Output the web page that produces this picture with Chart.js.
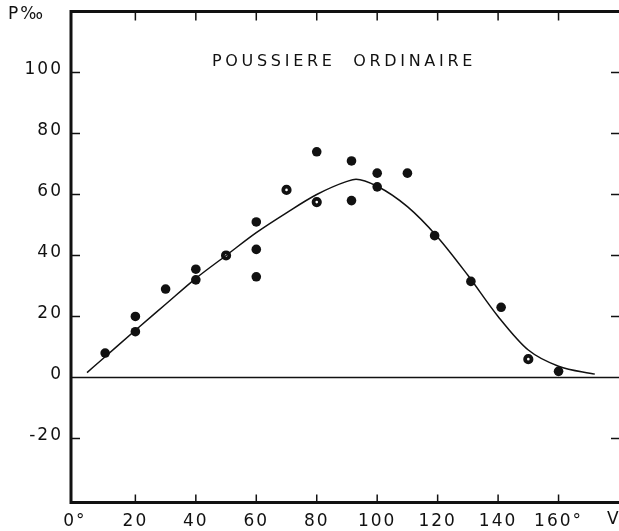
<!DOCTYPE html>
<html>
<head>
<meta charset="utf-8">
<script src="https://cdn.jsdelivr.net/npm/chart.js@4"></script>
<style>
  html, body { margin: 0; padding: 0; background: #fff; overflow: hidden; }
  #wrap { width: 619px; height: 531px; position: relative; }
  canvas { display: block; }
</style>
</head>
<body>
<div id="wrap"><canvas id="chart"></canvas></div>
<script>
// measured points (angle V in degrees, P in per mille)
const dotX = [10, 20, 20, 30, 40, 40, 60, 60, 60, 80, 91.5, 91.5, 100, 100, 110, 119, 131, 141, 160];
const dotY = [8, 15, 20, 29, 35.5, 32, 51, 42, 33, 74, 71, 58, 67, 62.5, 67, 46.5, 31.5, 23, 2];

// points drawn with a small white centre
const ringX = [50, 70, 80, 150];
const ringY = [40, 61.5, 57.5, 6];

// fitted curve
const curveX = [4, 10, 20, 30, 40, 50, 60, 70, 80, 90, 93, 100, 110, 120, 130, 140, 150, 160, 172];
const curveY = [1.6, 6.8, 15.5, 24, 32.5, 40, 47.5, 54, 60, 64.3, 65, 62.7, 56, 46, 33.5, 20, 9, 3.7, 1.1];

// axis ticks
const xTickValues = [0, 20, 40, 60, 80, 100, 120, 140, 160];
const xTickLabels = ["0°", "20", "40", "60", "80", "100", "120", "140", "160°"];
const yTickValues = [-20, 0, 20, 40, 60, 80, 100];
const yTickLabels = ["-20", "0", "20", "40", "60", "80", "100"];

const INK = "#111";
const FONT = "'DejaVu Sans', sans-serif";

const toPoints = (xs, ys) => xs.map((x, i) => ({ x, y: ys[i] }));

// frame, inward tick marks, zero line and the loose texts
const framePlugin = {
  id: "frame",
  beforeDraw(chart) {
    chart.ctx.letterSpacing = "2px";
  },
  afterDraw(chart) {
    const { ctx, chartArea: a, scales } = chart;
    const xs = scales.x, ys = scales.y;
    ctx.save();
    ctx.strokeStyle = INK;
    ctx.lineCap = "butt";

    // zero line
    ctx.lineWidth = 1.6;
    const y0 = ys.getPixelForValue(0);
    ctx.beginPath();
    ctx.moveTo(a.left, y0);
    ctx.lineTo(a.right, y0);
    ctx.stroke();

    // tick marks pointing inwards
    ctx.lineWidth = 1.5;
    xTickValues.forEach(v => {
      if (v === 0) return;
      const px = xs.getPixelForValue(v);
      ctx.beginPath();
      ctx.moveTo(px, a.bottom);
      ctx.lineTo(px, a.bottom - 8);
      ctx.moveTo(px, a.top);
      ctx.lineTo(px, a.top + 9);
      ctx.stroke();
    });
    yTickValues.forEach(v => {
      if (v === 0) return;
      const py = ys.getPixelForValue(v);
      ctx.beginPath();
      ctx.moveTo(a.left, py);
      ctx.lineTo(a.left + 9, py);
      ctx.moveTo(a.right - 8, py);
      ctx.lineTo(a.right, py);
      ctx.stroke();
    });

    // heavy frame: left, bottom, top
    ctx.lineWidth = 3;
    ctx.beginPath();
    ctx.moveTo(a.right, a.top);
    ctx.lineTo(a.left, a.top);
    ctx.lineTo(a.left, a.bottom);
    ctx.lineTo(a.right, a.bottom);
    ctx.stroke();

    // texts
    ctx.fillStyle = INK;
    ctx.textBaseline = "middle";
    ctx.letterSpacing = "2px";
    ctx.font = "17px " + FONT;
    ctx.textAlign = "left";
    ctx.fillText("P‰", 8, 15);
    ctx.fillText("V", 607, 520);

    ctx.letterSpacing = "3.7px";
    ctx.font = "16px " + FONT;
    ctx.textAlign = "center";
    ctx.fillText("POUSSIERE  ORDINAIRE", 344, 62);
    ctx.restore();
  },
};

new Chart(document.getElementById("chart"), {
  type: "scatter",
  data: {
    datasets: [
      {
        type: "line",
        label: "courbe",
        data: toPoints(curveX, curveY),
        borderColor: INK,
        borderWidth: 1.5,
        pointRadius: 0,
        tension: 0.4,
        cubicInterpolationMode: "monotone",
        fill: false,
      },
      {
        label: "mesures",
        data: toPoints(dotX, dotY),
        backgroundColor: INK,
        borderWidth: 0,
        pointRadius: 4.8,
      },
      {
        label: "mesures (cerclées)",
        data: toPoints(ringX, ringY),
        backgroundColor: "#fff",
        borderColor: INK,
        borderWidth: 3.8,
        pointRadius: 3.2,
      },
    ],
  },
  options: {
    responsive: true,
    maintainAspectRatio: false,
    animation: false,
    layout: {
      autoPadding: false,
      padding: { top: 11.5, right: 0, left: 0, bottom: 0 },
    },
    plugins: {
      legend: { display: false },
      tooltip: { enabled: false },
    },
    scales: {
      x: {
        type: "linear",
        min: -1.3,
        max: 180,
        afterBuildTicks: scale => {
          scale.ticks = xTickValues.map(value => ({ value }));
        },
        afterFit: scale => {
          scale.height = 28.5;
          scale.paddingLeft = 0;
          scale.paddingRight = 0;
        },
        grid: { display: false, drawTicks: false },
        border: { display: false },
        ticks: {
          color: INK,
          padding: 9,
          maxRotation: 0,
          autoSkip: false,
          font: { family: FONT, size: 17 },
          callback: (value, index) => xTickLabels[index],
        },
      },
      y: {
        type: "linear",
        min: -41,
        max: 120,
        afterBuildTicks: scale => {
          scale.ticks = yTickValues.map(value => ({ value }));
        },
        afterFit: scale => {
          scale.width = 71;
          scale.paddingTop = 0;
          scale.paddingBottom = 0;
        },
        grid: { display: false, drawTicks: false },
        border: { display: false },
        ticks: {
          color: INK,
          padding: 8,
          labelOffset: -3,
          autoSkip: false,
          font: { family: FONT, size: 17 },
          callback: (value, index) => yTickLabels[index],
        },
      },
    },
  },
  plugins: [framePlugin],
});
</script>
</body>
</html>
